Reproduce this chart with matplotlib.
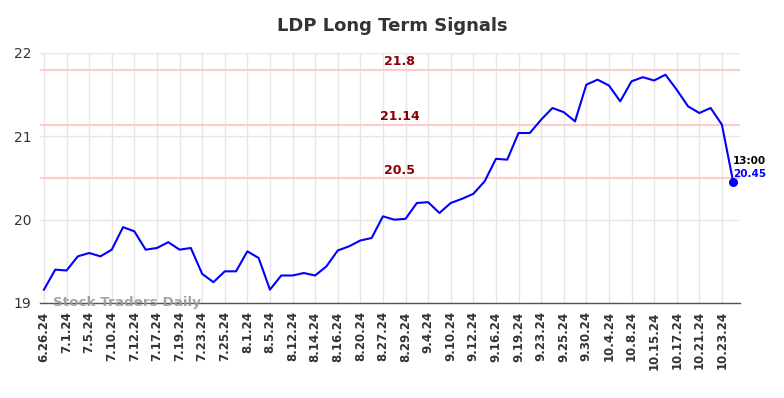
import matplotlib
matplotlib.use("Agg")
import matplotlib.pyplot as plt

tick_labels = ["6.26.24", "7.1.24", "7.5.24", "7.10.24", "7.12.24", "7.17.24", "7.19.24",
               "7.23.24", "7.25.24", "8.1.24", "8.5.24", "8.12.24", "8.14.24", "8.16.24",
               "8.20.24", "8.27.24", "8.29.24", "9.4.24", "9.10.24", "9.12.24", "9.16.24",
               "9.19.24", "9.23.24", "9.25.24", "9.30.24", "10.4.24", "10.8.24", "10.15.24",
               "10.17.24", "10.21.24", "10.23.24"]

prices = [19.16, 19.40, 19.39, 19.56, 19.60, 19.56, 19.64, 19.91, 19.86, 19.64,
          19.66, 19.73, 19.64, 19.66, 19.35, 19.25, 19.38, 19.38, 19.62, 19.54,
          19.16, 19.33, 19.33, 19.36, 19.33, 19.44, 19.63, 19.68, 19.75, 19.78,
          20.04, 20.00, 20.01, 20.20, 20.21, 20.08, 20.20, 20.25, 20.31, 20.46,
          20.73, 20.72, 21.04, 21.04, 21.20, 21.34, 21.29, 21.18, 21.62, 21.68,
          21.61, 21.42, 21.66, 21.71, 21.67, 21.74, 21.56, 21.36, 21.28, 21.34,
          21.14, 20.45]

levels = [21.8, 21.14, 20.5]
level_labels = ["21.8", "21.14", "20.5"]
last_time = "13:00"
last_label = "20.45"

fig = plt.figure(figsize=(7.84, 3.98), dpi=100)
ax = fig.add_axes([40/784, 1 - 303/398, 700/784, 250/398])

x = list(range(len(prices)))
ax.plot(x, prices, color="#0000ff", linewidth=1.5, zorder=3)
ax.scatter([x[-1]], [prices[-1]], color="#0000ff", s=30, zorder=4)

for lv, lb in zip(levels, level_labels):
    ax.axhline(lv, color="#ffcccc", linewidth=1.5, zorder=2)
    ax.text(31.5, lv + 0.015, lb, color="#8b0000", fontsize=9, fontweight="bold",
            ha="center", va="bottom", zorder=5)

ax.text(x[-1], prices[-1] + 0.195, last_time, color="black", fontsize=7.5,
        fontweight="bold", ha="left", va="bottom")
ax.text(x[-1], prices[-1] + 0.035, last_label, color="#0000ff", fontsize=7.5,
        fontweight="bold", ha="left", va="bottom")

ax.text(0.8, 19.005, "Stock Traders Daily", color="#999999", fontsize=9.7,
        fontweight="bold", ha="left", va="center", zorder=5, alpha=0.9)

ax.set_xlim(-0.35, 61.6)
ax.set_ylim(19, 22)
tick_pos = list(range(0, 2 * len(tick_labels), 2))
ax.set_xticks(tick_pos)
ax.set_xticklabels(tick_labels, rotation=90, fontsize=8.5, fontweight="bold", color="#333333")
ax.set_yticks([19, 20, 21, 22])
ax.set_yticklabels(["19", "20", "21", "22"], fontsize=10, color="#333333")
ax.tick_params(axis="both", length=0, pad=6)
ax.grid(True, color="#e6e6e6", linewidth=1, zorder=0)
ax.set_axisbelow(True)
for s in ["top", "right", "left"]:
    ax.spines[s].set_visible(False)
ax.spines["bottom"].set_color("#555555")
ax.spines["bottom"].set_linewidth(1)

fig.suptitle("LDP Long Term Signals", x=0.5, y=1 - 26/398, va="center",
             fontsize=13, fontweight="bold", color="#333333")

fig.savefig("out.png", dpi=100)
